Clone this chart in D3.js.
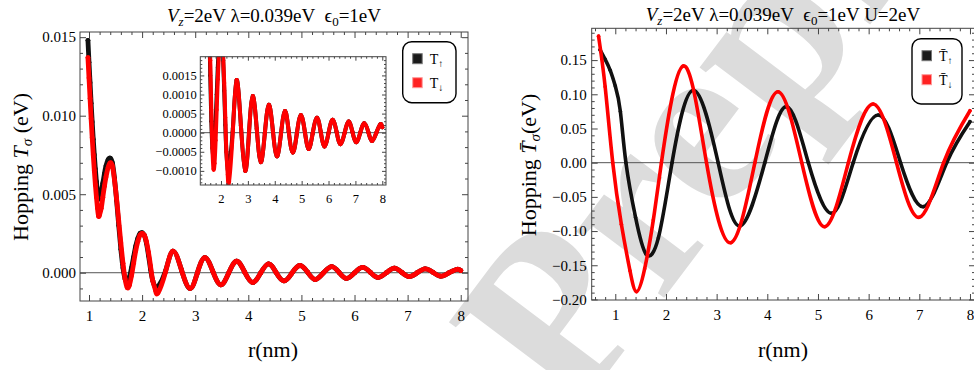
<!DOCTYPE html>
<html>
<head>
<meta charset="utf-8">
<script src="https://cdn.jsdelivr.net/npm/d3@7"></script>
<style>
  body { margin: 0; background: #fff; }
  text { font-family: "Liberation Serif", "Times New Roman", serif; fill: #000; white-space: pre; }
</style>
</head>
<body>
<div id="chart"></div>
<script>
// ---- left panel: hopping T_sigma (eV) vs r (nm)
const leftR = [0.98,1.00,1.02,1.04,1.06,1.08,1.10,1.12,1.14,1.16,1.18,1.20,1.23,1.26,1.29,1.32,
  1.36,1.40,1.44,1.48,1.52,1.56,1.60,1.64,1.68,1.72,1.76,1.80,1.84,1.88,1.92,1.96,2.00,2.04,2.08,2.12,2.16,2.20,
  2.25,2.30,2.44,2.58,2.74,2.90,3.04,3.18,3.33,3.48,3.63,3.78,3.93,4.08,4.23,4.38,4.52,4.67,4.82,4.97,5.12,
  5.26,5.41,5.57,5.71,5.85,6.00,6.15,6.30,6.44,6.60,6.75,6.89,7.03,7.18,7.33,7.48,7.62,7.78,7.93,8.00];
const leftUp = [0.0148,0.0134,0.0121,0.0108,0.0096,0.0085,0.0075,0.0066,0.0058,0.0051,0.0047,0.0048,0.0052,0.0057,0.0063,0.0068,
  0.0072,0.0073,0.0070,0.0060,0.0046,0.0030,0.0015,0.0003,-0.0004,-0.0006,-0.0003,0.0003,0.0010,0.0017,0.0022,0.0025,0.00255,0.0024,0.0019,0.0011,0.0002,-0.0005,
  -0.00095,-0.0009,0.0001,0.00138,0.00019,-0.00100,-0.00002,0.00096,0.00010,-0.00077,-0.00002,0.00073,0.00005,-0.00062,-0.00003,0.00057,0.00003,-0.00052,-0.00003,0.00046,0.00002,
  -0.00043,-0.00002,0.00039,0.00002,-0.00036,-0.00001,0.00034,0.00002,-0.00030,0.00000,0.00029,0.00002,-0.00025,0.00000,0.00025,0.00002,-0.00022,0.00000,0.00022,0.00014];
const leftDown = [0.0137,0.0124,0.0111,0.0098,0.0086,0.0075,0.0065,0.0056,0.0048,0.0041,0.0036,0.0037,0.0041,0.0048,0.0055,0.0061,
  0.0067,0.0070,0.0068,0.0059,0.0047,0.0033,0.0019,0.0006,-0.0004,-0.00095,-0.0008,-0.0002,0.0006,0.0014,0.0020,0.0024,0.0025,0.0024,0.0020,0.0013,0.0004,-0.0005,
  -0.0011,-0.00128,0.00004,0.00138,0.00019,-0.00100,-0.00002,0.00096,0.00010,-0.00077,-0.00002,0.00073,0.00005,-0.00062,-0.00003,0.00057,0.00003,-0.00052,-0.00003,0.00046,0.00002,
  -0.00043,-0.00002,0.00039,0.00002,-0.00036,-0.00001,0.00034,0.00002,-0.00030,0.00000,0.00029,0.00002,-0.00025,0.00000,0.00025,0.00002,-0.00022,0.00000,0.00022,0.00014];

// ---- right panel: hopping T-bar_sigma (eV) vs r (nm), U = 2 eV
const rightRUp = [0.70,0.80,0.90,1.00,1.10,1.21,1.40,1.61,1.85,2.12,2.54,3.03,3.46,3.95,4.38,4.81,5.27,5.695,6.19,6.63,7.08,7.54,8.00];
const rightUp = [0.165,0.151,0.135,0.112,0.075,0.0,-0.080,-0.134,-0.110,0.0,0.106,0.0,-0.0925,0.0,0.082,0.0,-0.074,0.0,0.0697,0.0,-0.0643,0.0,0.060];
const rightRDown = [0.67,0.80,0.95,1.12,1.29,1.42,1.58,1.75,1.91,2.34,2.80,3.28,3.755,4.215,4.68,5.135,5.60,6.09,6.55,7.00,7.48,8.00];
const rightDown = [0.185,0.111,0.0,-0.090,-0.158,-0.1886,-0.155,-0.084,0.0,0.1414,0.0,-0.117,0.0,0.1038,0.0,-0.0936,0.0,0.0858,0.0,-0.0799,0.0,0.076];

// ---- tick labels
const xTicks = [1,2,3,4,5,6,7,8];
const insetXTicks = [2,3,4,5,6,7,8];
const leftYTicks = [0,0.005,0.010,0.015];
const insetYTicks = [-0.0010,-0.0005,0,0.0005,0.0010,0.0015];
const rightYTicks = [-0.20,-0.15,-0.10,-0.05,0,0.05,0.10,0.15];

const W = 974, H = 370;
const svg = d3.select('#chart').append('svg').attr('width', W).attr('height', H);
const defs = svg.append('defs');

// watermark behind everything
svg.append('text')
  .attr('transform', 'translate(572,420) rotate(-53)')
  .attr('font-size', 240)
  .attr('font-weight', 'bold')
  .style('fill', '#dcdcdc')
  .text('Preprint');

const fmt = n => v => (v < 0 ? '\u2212' : '') + Math.abs(v).toFixed(n);

function minorTicks(dom, step, majors) {
  return d3.range(Math.ceil(dom[0] / step) * step, dom[1], step)
    .filter(v => !majors.some(m => Math.abs(m - v) < step / 10));
}

function drawFrame(g, x, y, o) {
  const [xa, xb] = x.range(), [yb, ya] = y.range();
  const tidy = s => {
    s.select('.domain').remove();
    s.selectAll('line').attr('stroke', '#444');
    s.selectAll('text').attr('font-size', o.fs).attr('font-family', null).style('fill', '#000');
  };
  const xMin = minorTicks(x.domain(), 0.2, o.xTicks);
  const yMin = minorTicks(y.domain(), o.yMinorStep, o.yTicks);
  g.append('g').attr('transform', `translate(0,${yb})`)
    .call(d3.axisBottom(x).tickValues(o.xTicks).tickSize(-o.maj).tickPadding(o.xPad).tickFormat(d3.format('d'))).call(tidy);
  g.append('g').attr('transform', `translate(0,${yb})`)
    .call(d3.axisBottom(x).tickValues(xMin).tickSize(-o.min).tickFormat(() => '')).call(tidy);
  g.append('g').attr('transform', `translate(0,${ya})`)
    .call(d3.axisTop(x).tickValues(o.xTicks).tickSize(-o.maj).tickFormat(() => '')).call(tidy);
  g.append('g').attr('transform', `translate(0,${ya})`)
    .call(d3.axisTop(x).tickValues(xMin).tickSize(-o.min).tickFormat(() => '')).call(tidy);
  g.append('g').attr('transform', `translate(${xa},0)`)
    .call(d3.axisLeft(y).tickValues(o.yTicks).tickSize(-o.maj).tickPadding(o.yPad).tickFormat(o.yFmt)).call(tidy);
  g.append('g').attr('transform', `translate(${xa},0)`)
    .call(d3.axisLeft(y).tickValues(yMin).tickSize(-o.min).tickFormat(() => '')).call(tidy);
  g.append('g').attr('transform', `translate(${xb},0)`)
    .call(d3.axisRight(y).tickValues(o.yTicks).tickSize(-o.maj).tickFormat(() => '')).call(tidy);
  g.append('g').attr('transform', `translate(${xb},0)`)
    .call(d3.axisRight(y).tickValues(yMin).tickSize(-o.min).tickFormat(() => '')).call(tidy);
  g.append('rect').attr('x', xa).attr('y', ya).attr('width', xb - xa).attr('height', yb - ya)
    .attr('fill', 'none').attr('stroke', '#444').attr('stroke-width', 1);
}

function drawSeries(g, x, y, rs, vs, color, rad, clipId) {
  const pts = d3.zip(rs, vs);
  const line = d3.line().x(d => x(d[0])).y(d => y(d[1])).curve(d3.curveNatural);
  const s = g.append('g').attr('clip-path', `url(#${clipId})`);
  s.append('path').datum(pts).attr('d', line).attr('fill', 'none')
    .attr('stroke', color).attr('stroke-width', rad * 2).attr('stroke-linecap', 'round');
  s.selectAll('circle').data(pts).join('circle')
    .attr('cx', d => x(d[0])).attr('cy', d => y(d[1])).attr('r', rad).attr('fill', color);
}

function zeroLine(g, x, y, clipId) {
  g.append('line').attr('clip-path', `url(#${clipId})`)
    .attr('x1', x.range()[0]).attr('x2', x.range()[1]).attr('y1', y(0)).attr('y2', y(0))
    .attr('stroke', '#555').attr('stroke-width', 1);
}

function clip(id, x, y) {
  defs.append('clipPath').attr('id', id).append('rect')
    .attr('x', x.range()[0]).attr('y', y.range()[1])
    .attr('width', x.range()[1] - x.range()[0]).attr('height', y.range()[0] - y.range()[1]);
}

function legend(g, bx, by, bw, bh, items) {
  g.append('rect').attr('x', bx).attr('y', by).attr('width', bw).attr('height', bh).attr('rx', 9)
    .attr('fill', '#fff').attr('stroke', '#000').attr('stroke-width', 1.4);
  items.forEach((it, i) => {
    const cy = by + 17 + i * 24;
    g.append('rect').attr('x', bx + 10).attr('y', cy - 5).attr('width', 9.5).attr('height', 10)
      .attr('fill', it.color).attr('stroke', it.edge).attr('stroke-width', 1);
    const t = g.append('text').attr('x', bx + 27).attr('y', cy + 5).attr('font-size', 14);
    t.append('tspan').text(it.label);
    t.append('tspan').attr('font-size', 10).attr('dy', 3).text(it.sub);
  });
}

// ===== left main panel
const gl = svg.append('g');
const xL = d3.scaleLinear().domain([0.8305, 8.137]).range([80, 468]);
const yL = d3.scaleLinear().domain([-0.0018, 0.01533]).range([301, 32]);
clip('clipL', xL, yL);
zeroLine(gl, xL, yL, 'clipL');
drawSeries(gl, xL, yL, leftR, leftUp, '#111', 2.4, 'clipL');
drawSeries(gl, xL, yL, leftR, leftDown, '#f00', 2.4, 'clipL');
drawFrame(gl, xL, yL, { xTicks, yTicks: leftYTicks, yMinorStep: 0.001, maj: 6, min: 3, fs: 15,
  xPad: 9, yPad: 4, yFmt: fmt(3) });

// inset
const gi = svg.append('g');
const xI = d3.scaleLinear().domain([1.23, 8.138]).range([200.3, 386]);
const yI = d3.scaleLinear().domain([-0.00137, 0.00199]).range([185, 56.7]);
clip('clipI', xI, yI);
gi.append('rect').attr('x', 200.3).attr('y', 56.7).attr('width', 185.7).attr('height', 128.3).attr('fill', '#fff');
zeroLine(gi, xI, yI, 'clipI');
drawSeries(gi, xI, yI, leftR, leftUp, '#111', 2.0, 'clipI');
drawSeries(gi, xI, yI, leftR, leftDown, '#f00', 2.0, 'clipI');
drawFrame(gi, xI, yI, { xTicks: insetXTicks, yTicks: insetYTicks, yMinorStep: 0.0001, maj: 4, min: 2, fs: 12.5,
  xPad: 9, yPad: 3.5, yFmt: fmt(4) });

legend(gl, 402.7, 41.7, 53.3, 61, [
  { color: '#1a1a1a', edge: '#777', label: 'T', sub: '\u2191' },
  { color: '#f22', edge: '#f99', label: 'T', sub: '\u2193' }
]);

// titles and axis labels, left
const tl = gl.append('text').attr('x', 274).attr('y', 21.5).attr('text-anchor', 'middle').attr('font-size', 19);
tl.append('tspan').attr('font-style', 'italic').text('V');
tl.append('tspan').attr('font-style', 'italic').attr('font-size', 13).attr('dy', 4).text('z');
tl.append('tspan').attr('dy', -4).text('=2eV \u03bb=0.039eV  \u03f5');
tl.append('tspan').attr('font-size', 13).attr('dy', 4).text('0');
tl.append('tspan').attr('dy', -4).text('=1eV');

const yl = gl.append('text').attr('transform', 'translate(28,167) rotate(-90)').attr('text-anchor', 'middle').attr('font-size', 22);
yl.append('tspan').text('Hopping ');
yl.append('tspan').attr('font-style', 'italic').text('T');
yl.append('tspan').attr('font-style', 'italic').attr('font-size', 15).attr('dy', 4).text('\u03c3');
yl.append('tspan').attr('dy', -4).text(' (eV)');

gl.append('text').attr('x', 273).attr('y', 357).attr('text-anchor', 'middle').attr('font-size', 22).text('r(nm)');

// ===== right panel
const gr = svg.append('g');
const xR = d3.scaleLinear().domain([0.5345, 8.099]).range([591.7, 975]);
const yR = d3.scaleLinear().domain([-0.2008, 0.1965]).range([300, 28.3]);
clip('clipR', xR, yR);
zeroLine(gr, xR, yR, 'clipR');
drawSeries(gr, xR, yR, rightRUp, rightUp, '#111', 1.8, 'clipR');
drawSeries(gr, xR, yR, rightRDown, rightDown, '#f00', 1.8, 'clipR');
drawFrame(gr, xR, yR, { xTicks, yTicks: rightYTicks, yMinorStep: 0.01, maj: 6, min: 3, fs: 15,
  xPad: 9.5, yPad: 5, yFmt: fmt(2) });

legend(gr, 912, 38.7, 50, 65.3, [
  { color: '#1a1a1a', edge: '#777', label: 'T\u0304', sub: '\u2191' },
  { color: '#f22', edge: '#f99', label: 'T\u0304', sub: '\u2193' }
]);

const tr = gr.append('text').attr('x', 783).attr('y', 21).attr('text-anchor', 'middle').attr('font-size', 19);
tr.append('tspan').attr('font-style', 'italic').text('V');
tr.append('tspan').attr('font-style', 'italic').attr('font-size', 13).attr('dy', 4).text('z');
tr.append('tspan').attr('dy', -4).text('=2eV \u03bb=0.039eV  \u03f5');
tr.append('tspan').attr('font-size', 13).attr('dy', 4).text('0');
tr.append('tspan').attr('dy', -4).text('=1eV U=2eV');

const yr = gr.append('text').attr('transform', 'translate(536,165) rotate(-90)').attr('text-anchor', 'middle').attr('font-size', 22);
yr.append('tspan').text('Hopping ');
yr.append('tspan').attr('font-style', 'italic').text('T\u0304');
yr.append('tspan').attr('font-style', 'italic').attr('font-size', 15).attr('dy', 4).text('\u03c3');
yr.append('tspan').attr('dy', -4).text('(eV)');

gr.append('text').attr('x', 783).attr('y', 357).attr('text-anchor', 'middle').attr('font-size', 22).text('r(nm)');
</script>
</body>
</html>
